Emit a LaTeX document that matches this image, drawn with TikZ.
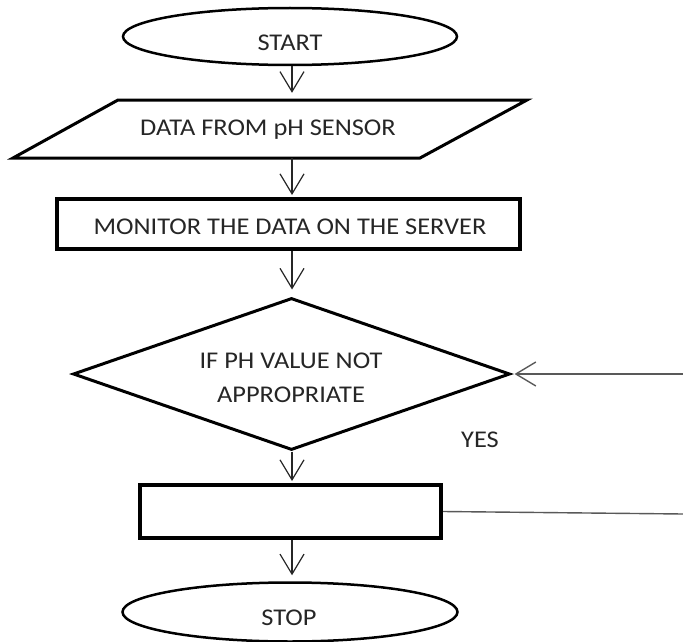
\documentclass[tikz,border=0pt]{standalone}
\usepackage{fontspec}
\setmainfont{Carlito}[FakeStretch=1.1]
\usetikzlibrary{shapes.geometric,arrows.meta,calc}
\begin{document}
\begin{tikzpicture}[x=1pt,y=-1pt,
  txt/.style={font=\fontsize{24}{34}\selectfont, text=black!85, inner sep=0pt, align=center},
  term/.style={ellipse, draw=black, line width=2.5pt, inner sep=0pt},
  box/.style={rectangle, draw=black, line width=4pt, inner sep=0pt},
  arr/.style={line width=1.2pt, draw=black!85, -{Straight Barb[length=20pt,width=24pt]}},
  side/.style={line width=1.4pt, draw=black!65}
]
\path[use as bounding box, fill=white] (0,0) rectangle (683,642);
\coordinate (ax) at (292,0);

% START
\node[term, minimum width=334pt, minimum height=57pt] (start) at (290,36.5) {};
\node[txt] (starttxt) at (290,43) {START};

% DATA parallelogram
\node[minimum width=300pt, minimum height=58pt, inner sep=0pt] (data) at (270,129) {};
\draw[line width=3pt, line join=miter] (118,100) -- (527,100) -- (420,158) -- (13,158) -- cycle;
\node[txt] (datatxt) at (268,130) {DATA FROM pH SENSOR};

% MONITOR box
\node[box, minimum width=463pt, minimum height=50pt] (mon) at (288.5,224) {};
\node[txt] (montxt) at (290,227) {MONITOR THE DATA ON THE SERVER};

% decision
\node[diamond, draw=black, line width=3pt, minimum width=437pt, minimum height=152pt, inner sep=0pt] (dec) at (291.5,374) {};
\node[txt] (dectxt) at (291,378) {IF PH VALUE NOT\\APPROPRIATE};
\node[txt] (yes) at (480,440) {YES};

% action box
\node[box, minimum width=301pt, minimum height=53pt] (act) at (290.5,511.5) {};

% STOP
\node[term, minimum width=335pt, minimum height=59pt] (stop) at (290,612) {};
\node[txt] (stoptxt) at (289,618) {STOP};

% connectors
\draw[arr, shorten >=7pt] (start.south -| ax) -- (data.north -| ax);
\draw[arr, shorten >=2pt] (data.south -| ax) -- (mon.north -| ax);
\draw[arr, shorten >=7pt] (mon.south -| ax) -- (dec.north -| ax);
\draw[arr, shorten >=2pt] (dec.south -| ax) -- (act.north -| ax);
\draw[arr, shorten >=6pt] (act.south -| ax) -- (stop.north -| ax);

\coordinate (inR) at (683,374);
\coordinate (outR) at (683,514);
\draw[arr, draw=black!65, line width=1.4pt, shorten >=3pt] (inR) -- (dec.east);
\draw[side] (act.east) -- (outR);
\end{tikzpicture}
\end{document}
